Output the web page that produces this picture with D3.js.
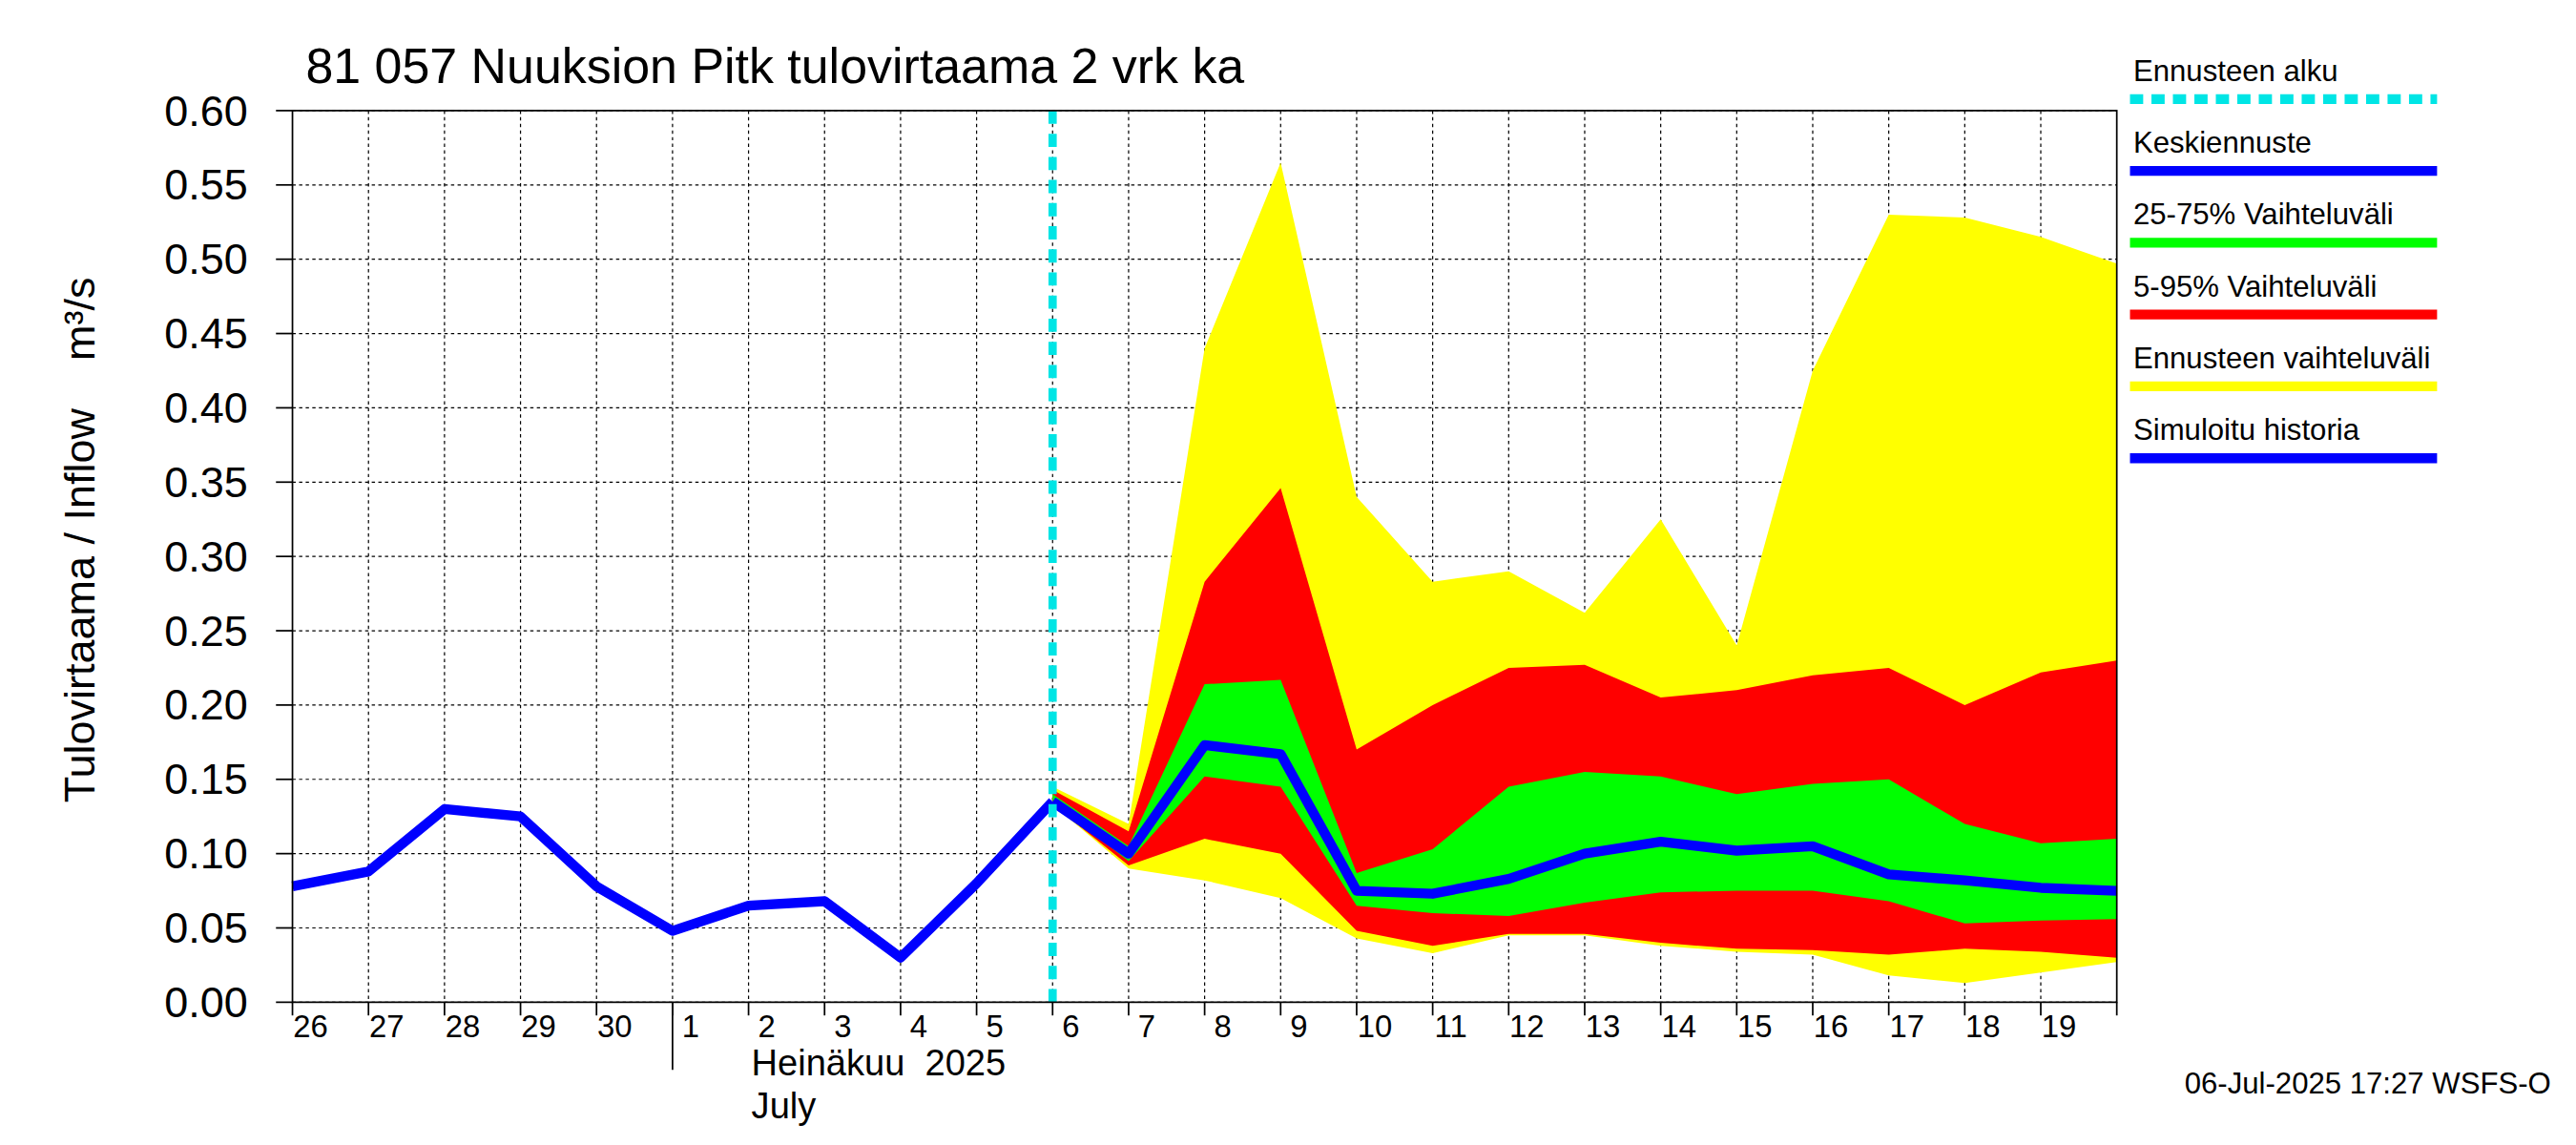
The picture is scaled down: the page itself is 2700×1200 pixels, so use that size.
<!DOCTYPE html>
<html><head><meta charset="utf-8">
<script src="https://cdn.jsdelivr.net/npm/d3@7"></script>
<style>body{margin:0;background:#fff}text{font-family:"Liberation Sans",Arial,sans-serif;white-space:pre}</style>
</head><body><svg id="c"></svg>
<script>
// days from 26 Jun 2025 to 20 Jul 2025, one value per midnight
const dayLabels = ['26','27','28','29','30','1','2','3','4','5','6','7','8','9','10','11','12','13','14','15','16','17','18','19'];
const history = [0.078,0.088,0.130,0.125,0.078,0.048,0.065,0.068,0.030,0.080,0.135];
const mean = [0.135,0.100,0.173,0.167,0.075,0.073,0.083,0.100,0.108,0.102,0.105,0.086,0.082,0.077,0.075];
const yelTop = [0.145,0.120,0.440,0.565,0.340,0.283,0.290,0.262,0.325,0.240,0.425,0.530,0.528,0.515,0.497];
const redTop = [0.143,0.115,0.283,0.346,0.170,0.200,0.225,0.227,0.205,0.210,0.220,0.225,0.200,0.222,0.230];
const grnTop = [0.140,0.105,0.214,0.217,0.087,0.103,0.145,0.155,0.152,0.140,0.147,0.150,0.120,0.107,0.110];
const grnBot = [0.135,0.095,0.152,0.145,0.065,0.060,0.058,0.067,0.074,0.075,0.075,0.068,0.053,0.055,0.056];
const redBot = [0.133,0.092,0.110,0.100,0.048,0.038,0.046,0.046,0.040,0.036,0.035,0.032,0.036,0.034,0.030];
const yelBot = [0.133,0.090,0.082,0.070,0.043,0.033,0.045,0.045,0.038,0.034,0.032,0.018,0.013,0.020,0.027];
const yTicks = [0,0.05,0.1,0.15,0.2,0.25,0.3,0.35,0.4,0.45,0.5,0.55,0.6];
const fcStart = 10;

const W = 1560, H = 690;
const svg = d3.select('#c').attr('width', 2700).attr('height', 1194).attr('viewBox', `0 0 ${W} ${H}`);
const L = 177, R = 1282, T = 67, B = 607;
const x = d3.scaleLinear().domain([0, 24]).range([L, R]);
const y = d3.scaleLinear().domain([0, 0.6]).range([B, T]);

// grid
const g = svg.append('g');
yTicks.forEach(v => g.append('line').attr('x1', L).attr('x2', R).attr('y1', y(v)).attr('y2', y(v))
  .attr('stroke', '#000').attr('stroke-dasharray', '2,2').attr('stroke-width', 0.7));
d3.range(1, 24).forEach(i => g.append('line').attr('x1', x(i)).attr('x2', x(i)).attr('y1', T).attr('y2', B)
  .attr('stroke', '#000').attr('stroke-dasharray', '2,2').attr('stroke-width', 0.7));

// bands
const band = (top, bot, col) => {
  const a = d3.area().x((d, i) => x(fcStart + i)).y0((d, i) => y(bot[i])).y1(d => y(d));
  svg.append('path').attr('d', a(top)).attr('fill', col);
};
band(yelTop, yelBot, '#ffff00');
band(redTop, redBot, '#ff0000');
band(grnTop, grnBot, '#00ff00');

const line = d3.line().x(d => x(d[0])).y(d => y(d[1]));
svg.append('path').attr('d', line(history.map((v, i) => [i, v])))
  .attr('fill', 'none').attr('stroke', '#0000ff').attr('stroke-width', 6).attr('stroke-linejoin', 'round');
svg.append('path').attr('d', line(mean.map((v, i) => [fcStart + i, v])))
  .attr('fill', 'none').attr('stroke', '#0000ff').attr('stroke-width', 6).attr('stroke-linejoin', 'round');

svg.append('line').attr('x1', x(fcStart)).attr('x2', x(fcStart)).attr('y1', T).attr('y2', B)
  .attr('stroke', '#00e5e5').attr('stroke-width', 5).attr('stroke-dasharray', '8,6');

// frame
svg.append('rect').attr('x', L).attr('y', T).attr('width', R - L).attr('height', B - T)
  .attr('fill', 'none').attr('stroke', '#000').attr('stroke-width', 1);

// y axis
yTicks.forEach(v => {
  svg.append('line').attr('x1', L - 10).attr('x2', L).attr('y1', y(v)).attr('y2', y(v)).attr('stroke', '#000');
  svg.append('text').attr('x', L - 27).attr('y', y(v) + 9).attr('text-anchor', 'end')
    .attr('font-size', 26).text(v.toFixed(2));
});
svg.append('text').attr('transform', `translate(57,${(T + B) / 2 - 10}) rotate(-90)`).attr('text-anchor', 'middle')
  .attr('font-size', 26).text('Tulovirtaama / Inflow    m³/s');

// x axis
d3.range(0, 25).forEach(i => svg.append('line').attr('x1', x(i)).attr('x2', x(i)).attr('y1', B).attr('y2', B + 8).attr('stroke', '#000'));
dayLabels.forEach((d, i) => svg.append('text').attr('x', x(i) + 11).attr('y', B + 21).attr('text-anchor', 'middle')
  .attr('font-size', 19).text(d));
svg.append('line').attr('x1', x(5)).attr('x2', x(5)).attr('y1', B).attr('y2', 648).attr('stroke', '#000');
svg.append('text').attr('x', 455).attr('y', 651).attr('font-size', 22).text('Heinäkuu  2025');
svg.append('text').attr('x', 455).attr('y', 677).attr('font-size', 22).text('July');

svg.append('text').attr('x', 185).attr('y', 50).attr('font-size', 30).text('81 057 Nuuksion Pitk tulovirtaama 2 vrk ka');
svg.append('text').attr('x', 1545).attr('y', 662).attr('text-anchor', 'end').attr('font-size', 18).text('06-Jul-2025 17:27 WSFS-O');

// legend
const legend = [
  ['Ennusteen alku', '#00e5e5', '8,5'],
  ['Keskiennuste', '#0000ff', null],
  ['25-75% Vaihteluväli', '#00ff00', null],
  ['5-95% Vaihteluväli', '#ff0000', null],
  ['Ennusteen vaihteluväli', '#ffff00', null],
  ['Simuloitu historia', '#0000ff', null]
];
legend.forEach((d, i) => {
  const yy = 49 + i * 43.5;
  svg.append('text').attr('x', 1292).attr('y', yy).attr('font-size', 18).text(d[0]);
  svg.append('line').attr('x1', 1290).attr('x2', 1476).attr('y1', yy + 11).attr('y2', yy + 11)
    .attr('stroke', d[1]).attr('stroke-width', 6).attr('stroke-dasharray', d[2]);
});
</script></body></html>
